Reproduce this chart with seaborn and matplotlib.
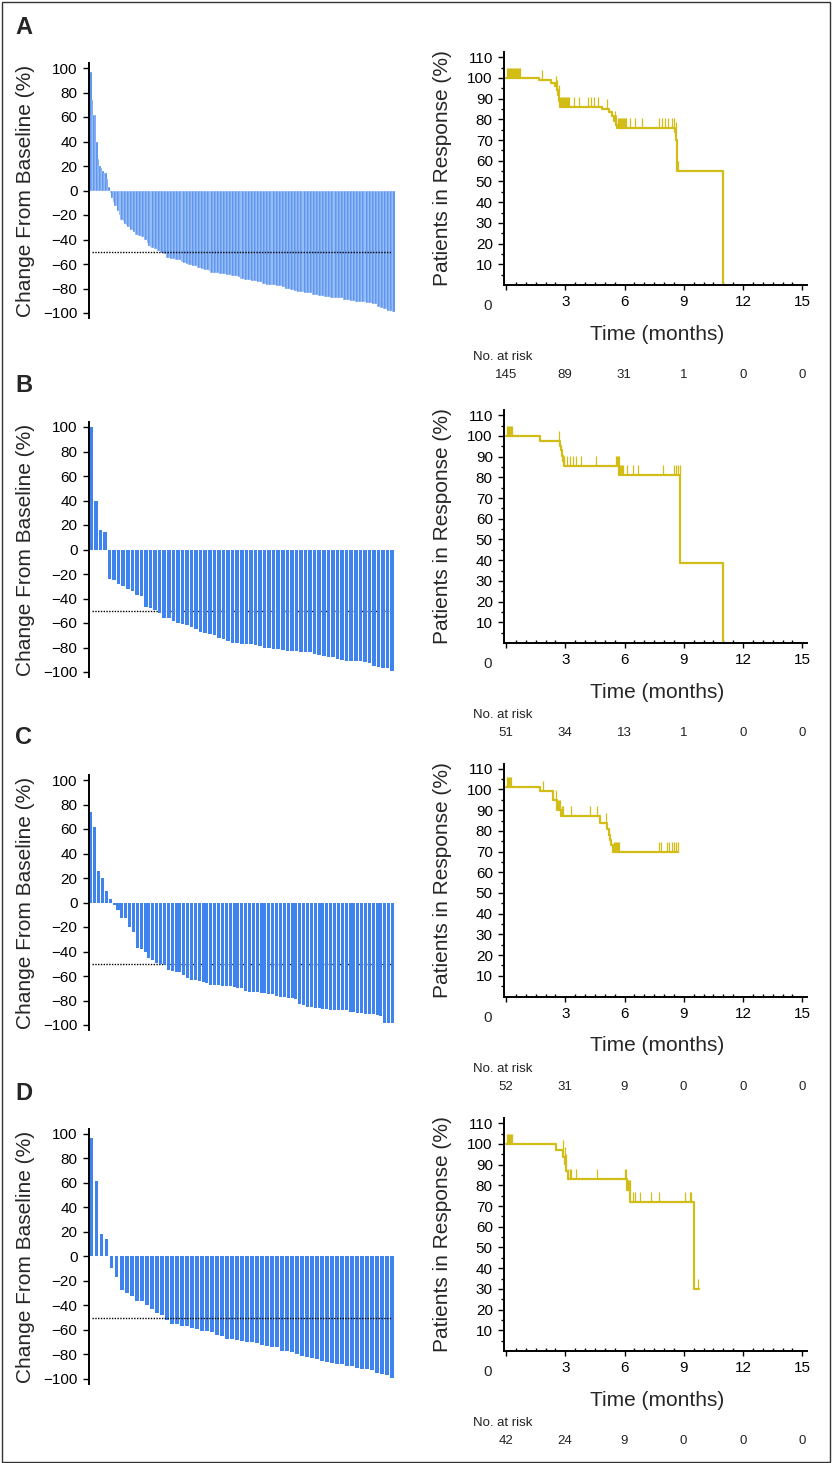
import numpy as np
import seaborn as sns
import matplotlib.pyplot as plt
from matplotlib.patches import Rectangle
from matplotlib.ticker import MultipleLocator

# best change from baseline (%) per patient
wf_b = [100, 40, 16, 14, -24, -25, -28, -30, -32, -34, -37, -38, -47, -48,
        -49, -52, -56, -56, -58, -60, -61, -62, -63, -65, -67, -68, -69, -70,
        -72, -73, -75, -76, -76, -77, -77, -77, -78, -79, -80, -80, -81, -81,
        -82, -83, -83, -83, -84, -84, -84, -85, -86, -87, -88, -88, -89, -90,
        -91, -91, -91, -91, -92, -93, -95, -96, -97, -97, -99]
wf_c = [74, 62, 26, 20, 9, 3, -2, -6, -13, -13, -20, -24, -37, -38, -40, -45,
        -47, -49, -50, -51, -55, -56, -57, -57, -59, -62, -63, -63, -64, -65,
        -66, -67, -67, -67, -68, -68, -68, -69, -70, -70, -72, -73, -73, -73,
        -74, -74, -75, -75, -76, -77, -77, -78, -78, -79, -83, -84, -85, -85,
        -86, -86, -87, -87, -88, -88, -88, -88, -88, -89, -89, -90, -90, -91,
        -91, -91, -92, -93, -98, -98, -98]
wf_d = [97, 62, 18, 14, -9, -17, -27, -30, -32, -36, -36, -40, -43, -46, -48,
        -52, -55, -55, -57, -57, -58, -59, -61, -61, -62, -64, -65, -67, -67,
        -68, -69, -70, -70, -71, -72, -73, -74, -74, -77, -77, -78, -80, -81,
        -82, -83, -84, -85, -86, -87, -88, -88, -89, -89, -91, -92, -92, -93,
        -95, -96, -97, -99]
# panel A pools every patient
wf_a = sorted(wf_b + wf_c + wf_d, reverse=True)

# duration of response: step times (months) and % still in response
km_a_time = [0, 1.67, 2.25, 2.5, 2.58, 2.64, 2.69, 2.73, 4.85, 5.2, 5.35, 5.45,
             5.55, 5.62, 8.55, 8.62, 8.68, 11.0]
km_a_surv = [100, 98.9, 97.8, 96, 94, 92, 89, 86, 85.2, 83.5, 81.5, 79, 77.5,
             76, 74, 70, 55.3, 0]
km_a_cens = [0.05, 0.1, 0.15, 0.2, 0.25, 0.3, 0.35, 0.4, 0.45, 0.5, 0.55, 0.6,
             0.65, 0.7, 1.84, 2.52, 2.6, 2.66, 2.75, 2.8, 2.85, 2.9, 2.95, 3.0,
             3.05, 3.1, 3.15, 3.2, 3.46, 3.69, 4.13, 4.3, 4.47, 4.64, 5.13, 5.5,
             5.57, 5.65, 5.7, 5.75, 5.8, 5.85, 5.9, 5.95, 6.0, 6.05, 6.3, 6.55,
             6.9, 7.75, 7.88, 8.05, 8.22, 8.39, 8.51, 8.6, 8.72]

km_b_time = [0, 1.73, 2.75, 2.8, 2.84, 2.88, 2.93, 5.72, 8.82, 10.98]
km_b_surv = [100, 97.6, 95, 93, 90.5, 88, 85.4, 81.3, 38.8, 0]
km_b_cens = [0.05, 0.1, 0.15, 0.2, 0.25, 0.3, 2.7, 2.95, 3.08, 3.22, 3.37,
             3.54, 3.81, 4.57, 5.55, 5.6, 5.65, 5.7, 5.75, 5.8, 5.85, 5.9,
             6.12, 6.43, 6.66, 7.93, 8.48, 8.6, 8.7, 8.79]

km_c_time = [0, 1.73, 2.37, 2.6, 2.8, 4.77, 5.12, 5.2, 5.26, 5.33, 5.4, 8.72]
km_c_surv = [101, 99.5, 94.9, 90, 87, 84, 81, 78, 75.5, 73, 70, 70]
km_c_cens = [0.05, 0.1, 0.15, 0.2, 0.25, 1.87, 2.55, 2.65, 2.7, 2.75, 2.85,
             2.9, 3.3, 4.27, 4.6, 5.05, 5.45, 5.5, 5.55, 5.6, 5.65, 5.7, 7.73,
             7.85, 8.15, 8.23, 8.4, 8.48, 8.6, 8.7]

km_d_time = [0, 2.54, 2.9, 2.98, 3.05, 3.12, 6.1, 6.28, 9.5, 9.78]
km_d_surv = [100, 97, 93.5, 90.5, 87, 83, 78, 72, 30, 30]
km_d_cens = [0.05, 0.1, 0.15, 0.2, 0.25, 0.3, 2.88, 2.96, 3.04, 3.14, 3.22,
             3.3, 3.54, 4.6, 6.02, 6.06, 6.14, 6.18, 6.22, 6.26, 6.42, 6.54,
             6.8, 7.34, 7.73, 9.08, 9.29, 9.36, 9.72]

risk_times = [0, 3, 6, 9, 12, 15]
risk_a = [145, 89, 31, 1, 0, 0]
risk_b = [51, 34, 13, 1, 0, 0]
risk_c = [52, 31, 9, 0, 0, 0]
risk_d = [42, 24, 9, 0, 0, 0]

letters = ['A', 'B', 'C', 'D']

BAR_BLUE = '#3f83ee'
KM_YELLOW = '#d2bd17'
W, H = 834, 1463

sns.set_style('white')
plt.rcParams['font.family'] = ['Liberation Sans', 'DejaVu Sans']


def fbox(left, top, width, height):
    # pixel box -> figure fraction
    return [left / W, 1 - (top + height) / H, width / W, height / H]


fig = plt.figure(figsize=(W / 100, H / 100), dpi=100)

wf_zero = [190.5, 549.5, 902.5, 1256.5]
km_base = [285, 643, 996.5, 1351]
letter_y = [27, 385, 738, 1093]
# the -50 reference line sits over the bars in A and D, behind them in B and C
ref_z = [3, 0.5, 0.5, 3]

panels = [
    (wf_a, km_a_time, km_a_surv, km_a_cens, risk_a),
    (wf_b, km_b_time, km_b_surv, km_b_cens, risk_b),
    (wf_c, km_c_time, km_c_surv, km_c_cens, risk_c),
    (wf_d, km_d_time, km_d_surv, km_d_cens, risk_d),
]

for i, (wf, kt, ks, kc, risk) in enumerate(panels):
    # ---- waterfall ----
    ax = fig.add_axes(fbox(89, wf_zero[i] - 127.4, 305.5, 254.8))
    n = len(wf)
    ax.axhline(-50, xmin=0.01, xmax=0.99, color='black', lw=1,
               ls=(0, (1, 1)), zorder=ref_z[i])
    if i == 0:
        # bars are ~1.5 px wide here, so thin white edges give the stripes
        sns.barplot(x=np.arange(n), y=wf, color=BAR_BLUE, saturation=1,
                    width=1, edgecolor='white', linewidth=0.25,
                    errorbar=None, ax=ax)
    else:
        sns.barplot(x=np.arange(n), y=wf, color=BAR_BLUE, saturation=1,
                    width=0.78, linewidth=0, errorbar=None, ax=ax)
    ax.set_xlim(-0.5, n - 0.5)
    ax.set_ylim(-104, 104)
    ax.set_yticks(range(-100, 101, 20))
    ax.xaxis.set_visible(False)
    for side in ['top', 'right', 'bottom']:
        ax.spines[side].set_visible(False)
    ax.spines['left'].set_linewidth(1.4)
    ax.spines['left'].set_color('black')
    ax.tick_params(axis='y', direction='out', length=4.3, width=1, pad=4,
                   labelsize=11, colors='black', left=True)
    ax.set_ylabel('')
    fig.text(26 / W, 1 - wf_zero[i] / H, 'Change From Baseline (%)',
             rotation=90, ha='center', va='center', fontsize=15)
    fig.text(15 / W, 1 - letter_y[i] / H, letters[i], ha='left', va='center',
             fontsize=17, fontweight='bold')

    # ---- Kaplan-Meier ----
    base = km_base[i]
    kax = fig.add_axes(fbox(504.3, base - 232.9, 302.7, 232.9))
    sns.lineplot(x=kt, y=ks, drawstyle='steps-post', color=KM_YELLOW,
                 linewidth=1.6, estimator=None, ax=kax)
    cx = np.array(kc)
    lv = np.array(ks)[np.searchsorted(kt, cx, side='right') - 1]
    sns.scatterplot(x=cx, y=lv + 2.4, marker='|', s=50, color=KM_YELLOW,
                    linewidth=0.9, ax=kax)
    kax.set_xlim(-0.09, 15.24)
    kax.set_ylim(0, 112.5)
    kax.set_xticks(risk_times)
    kax.set_xticklabels([''] + [str(t) for t in risk_times[1:]])
    kax.xaxis.set_minor_locator(MultipleLocator(0.5))
    kax.set_yticks(range(10, 111, 10))
    kax.set_yticks(range(5, 111, 10), minor=True)
    for side in ['top', 'right']:
        kax.spines[side].set_visible(False)
    for side in ['left', 'bottom']:
        kax.spines[side].set_linewidth(1.4)
        kax.spines[side].set_color('black')
    kax.tick_params(axis='y', which='major', direction='out', length=4.3,
                    width=1, pad=4, labelsize=11, colors='black', left=True)
    kax.tick_params(axis='y', which='minor', direction='out', length=2.5,
                    width=1, colors='black', left=True)
    kax.tick_params(axis='x', which='major', direction='out', length=3.5,
                    width=1, pad=4, labelsize=11, colors='black', bottom=True)
    kax.tick_params(axis='x', which='minor', direction='in', length=2.5,
                    width=1, colors='black', bottom=True)
    kax.set_xlabel('')
    kax.set_ylabel('')
    kax.text(-0.95, -21 / 2.07, '0', ha='center', va='center', fontsize=11,
             clip_on=False)
    fig.text(442.5 / W, 1 - (base - 116.5) / H, 'Patients in Response (%)',
             rotation=90, ha='center', va='center', fontsize=15)
    fig.text(657 / W, 1 - (base + 49) / H, 'Time (months)', ha='center',
             va='center', fontsize=15)
    fig.text(473 / W, 1 - (base + 72) / H, 'No. at risk', ha='left',
             va='center', fontsize=9.5, color='#222222')
    for t, r in zip(risk_times, risk):
        fig.text((505.75 + t * 19.75) / W, 1 - (base + 90) / H, str(r),
                 ha='center', va='center', fontsize=9.5, color='#222222')

fig.patches.append(Rectangle((1.5 / W, 1 - 1461.5 / H), 828 / W, 1460 / H,
                             transform=fig.transFigure, fill=False,
                             edgecolor='#333333', lw=1))

fig.savefig('out.png', dpi=100)
